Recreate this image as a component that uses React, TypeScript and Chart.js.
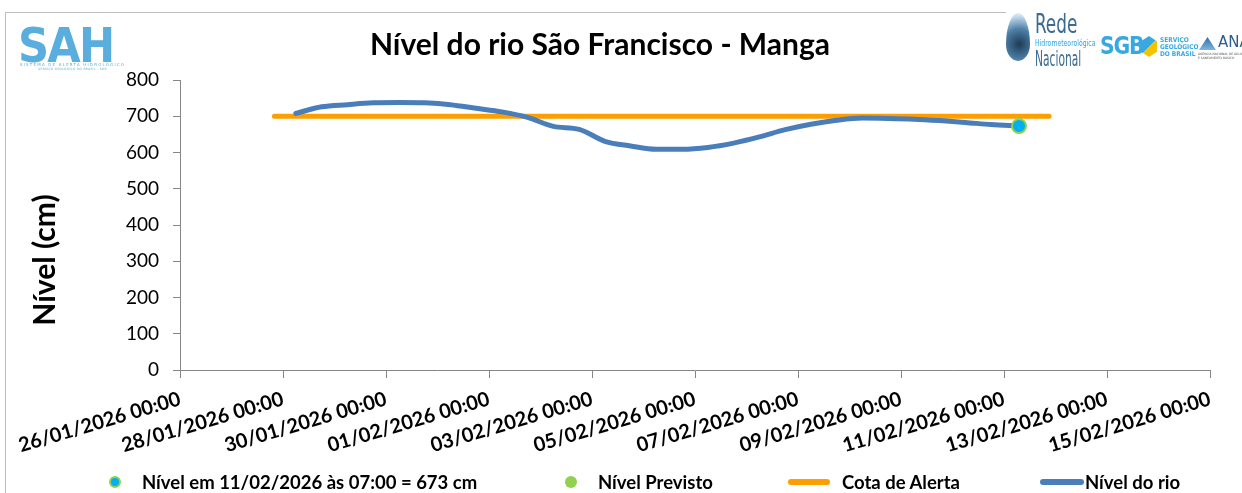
import { useEffect, useRef } from "react";
import { Chart, registerables } from "chart.js";

Chart.register(...registerables);

const startDate = "2026-01-26T00:00";
const endDate = "2026-02-15T00:00";
const xTickStepDays = 2;

const riverTimes = [
  "2026-01-28T06:00", "2026-01-28T18:00", "2026-01-29T06:00", "2026-01-29T18:00",
  "2026-01-30T06:00", "2026-01-30T18:00", "2026-01-31T06:00", "2026-01-31T18:00",
  "2026-02-01T06:00", "2026-02-01T18:00", "2026-02-02T06:00", "2026-02-02T18:00",
  "2026-02-03T06:00", "2026-02-03T18:00", "2026-02-04T06:00", "2026-02-04T18:00",
  "2026-02-05T06:00", "2026-02-05T18:00", "2026-02-06T06:00", "2026-02-06T18:00",
  "2026-02-07T06:00", "2026-02-07T18:00", "2026-02-08T06:00", "2026-02-08T18:00",
  "2026-02-09T06:00", "2026-02-09T18:00", "2026-02-10T06:00", "2026-02-10T18:00",
  "2026-02-11T07:00",
];
const riverValues = [
  708, 726, 732, 737,
  738, 737, 732, 722,
  712, 697, 672, 664,
  631, 618, 609, 609,
  614, 626, 643, 663,
  678, 689, 695, 694,
  692, 688, 683, 677,
  673,
];

const alertTimes = ["2026-01-27T20:00", "2026-02-11T21:00"];
const alertValues = [700, 700];

const currentTimes = ["2026-02-11T07:00"];
const currentValues = [673];

const forecastTimes: string[] = [];
const forecastValues: number[] = [];

const yMin = 0;
const yMax = 800;
const yStep = 100;

const chartTitle = "Nível do rio São Francisco - Manga";
const yAxisTitle = "Nível (cm)";
const legendLabels = [
  "Nível em 11/02/2026 às 07:00 = 673 cm",
  "Nível Previsto",
  "Cota de Alerta",
  "Nível do rio",
];

const DAY = 86400000;
const toMs = (s: string) => Date.parse(s + ":00Z");
const base = toMs(startDate);
const toDays = (s: string) => (toMs(s) - base) / DAY;
const pts = (times: string[], vals: number[]) =>
  times.map((t, i) => ({ x: toDays(t), y: vals[i] }));
const pad2 = (n: number) => String(n).padStart(2, "0");
const fmtTick = (v: number) => {
  const d = new Date(base + v * DAY);
  return `${pad2(d.getUTCDate())}/${pad2(d.getUTCMonth() + 1)}/${d.getUTCFullYear()} 00:00`;
};

const FONT = "Lato, 'Open Sans', sans-serif";
const COND = "'DejaVu Sans Condensed', 'DejaVu Sans', sans-serif";
const BLUE = "#4A7EBB";
const ORANGE = "#FF9E00";
const AXIS = "#868686";

export default function App() {
  const ref = useRef<HTMLCanvasElement | null>(null);

  useEffect(() => {
    if (!ref.current) return;
    const chart = new Chart(ref.current, {
      type: "line",
      data: {
        datasets: [
          {
            label: legendLabels[0],
            data: pts(currentTimes, currentValues),
            showLine: false,
            pointRadius: 7,
            pointBackgroundColor: "#00B0F0",
            pointBorderColor: "#92D050",
            pointBorderWidth: 2,
          },
          {
            label: legendLabels[1],
            data: pts(forecastTimes, forecastValues),
            showLine: false,
            pointRadius: 6,
            pointBackgroundColor: "#92D050",
            pointBorderColor: "#92D050",
          },
          {
            label: legendLabels[3],
            data: pts(riverTimes, riverValues),
            borderColor: BLUE,
            borderWidth: 5,
            pointRadius: 0,
            tension: 0.4,
            cubicInterpolationMode: "monotone",
            borderCapStyle: "round",
            borderJoinStyle: "round",
          },
          {
            label: legendLabels[2],
            data: pts(alertTimes, alertValues),
            borderColor: ORANGE,
            borderWidth: 5,
            pointRadius: 0,
            borderCapStyle: "round",
          },
        ],
      },
      options: {
        responsive: false,
        animation: false,
        layout: { padding: { left: 0, right: 32, top: 80, bottom: 0 } },
        plugins: {
          legend: { display: false },
          title: { display: false },
          tooltip: { enabled: false },
        },
        scales: {
          x: {
            type: "linear",
            min: 0,
            max: toDays(endDate),
            afterFit: (s: any) => {
              s.height = 123;
            },
            ticks: {
              stepSize: xTickStepDays,
              minRotation: 16.5,
              maxRotation: 16.5,
              padding: 9,
              color: "#000",
              font: { family: FONT, size: 20, weight: "bold" },
              callback: (v: any) => fmtTick(Number(v)),
            },
            grid: {
              display: true,
              drawOnChartArea: false,
              drawTicks: true,
              tickLength: 8,
              color: AXIS,
            },
            border: { display: true, color: AXIS, width: 1 },
          },
          y: {
            min: yMin,
            max: yMax,
            afterFit: (s: any) => {
              s.width = 180;
            },
            ticks: {
              stepSize: yStep,
              padding: 14,
              color: "#000",
              font: { family: FONT, size: 19 },
            },
            grid: {
              display: true,
              drawOnChartArea: false,
              drawTicks: true,
              tickLength: 7,
              color: AXIS,
            },
            border: { display: true, color: AXIS, width: 1 },
          },
        },
      },
    });
    return () => chart.destroy();
  }, []);

  const legendText: React.CSSProperties = {
    position: "absolute",
    top: 471,
    fontFamily: FONT,
    fontWeight: 700,
    fontSize: 18.5,
    color: "#000",
    whiteSpace: "nowrap",
    lineHeight: "22px",
  };

  return (
    <div
      style={{
        position: "absolute",
        left: 0,
        top: 0,
        width: 1242,
        height: 493,
        background: "#fff",
        overflow: "hidden",
      }}
    >
      {/* frame */}
      <div
        style={{
          position: "absolute",
          left: 5,
          top: 12,
          width: 1000,
          height: 490,
          borderTop: "1px solid #BFBFBF",
          borderLeft: "1px solid #BFBFBF",
        }}
      />
      <canvas
        ref={ref}
        width={1242}
        height={493}
        style={{ position: "absolute", left: 0, top: 0, width: 1242, height: 493 }}
      />
      {/* title */}
      <div
        style={{
          position: "absolute",
          left: 300,
          width: 600,
          top: 25,
          textAlign: "center",
          fontFamily: FONT,
          fontWeight: 700,
          fontSize: 30,
          lineHeight: "36px",
          color: "#000",
          whiteSpace: "nowrap",
        }}
      >
        {chartTitle}
      </div>
      {/* y axis title */}
      <div
        style={{
          position: "absolute",
          left: 43 - 100,
          top: 260 - 18,
          width: 200,
          height: 36,
          lineHeight: "36px",
          textAlign: "center",
          transform: "rotate(-90deg)",
          fontFamily: FONT,
          fontWeight: 700,
          fontSize: 30,
          color: "#000",
          whiteSpace: "nowrap",
        }}
      >
        {yAxisTitle}
      </div>

      {/* SAH logo */}
      <div
        style={{
          position: "absolute",
          left: 18,
          top: 19,
          fontFamily: "'DejaVu Sans', sans-serif",
          fontWeight: 900,
          fontSize: 48,
          lineHeight: "52px",
          color: "#5AAEDD",
          transform: "scaleX(0.9)",
          transformOrigin: "left top",
          letterSpacing: -2,
        }}
      >
        SAH
      </div>
      <div
        style={{
          position: "absolute",
          left: 20,
          top: 62,
          fontFamily: "'DejaVu Sans', sans-serif",
          fontSize: 4,
          lineHeight: "5px",
          letterSpacing: 1.2,
          color: "#5AAEDD",
          whiteSpace: "nowrap",
        }}
      >
        SISTEMA DE ALERTA HIDROLÓGICO
        <div style={{ fontSize: 3, letterSpacing: 0.3, textAlign: "center" }}>
          SERVIÇO GEOLÓGICO DO BRASIL - SGB
        </div>
      </div>

      {/* Rede Hidrometeorológica Nacional logo */}
      <div
        style={{
          position: "absolute",
          left: 1006,
          top: 13,
          width: 24,
          height: 48,
          borderRadius: "50% 50% 50% 50% / 65% 65% 35% 35%",
          background:
            "radial-gradient(circle at 55% 65%, #1d3b55 0%, #4d7fa5 45%, #bcd6ea 80%, #fff 100%)",
        }}
      />
      <div
        style={{
          position: "absolute",
          left: 1035,
          top: 11,
          fontFamily: COND,
          color: "#3D6B8F",
          whiteSpace: "nowrap",
          transform: "scaleX(0.72)",
          transformOrigin: "left top",
        }}
      >
        <div style={{ fontSize: 26, lineHeight: "27px" }}>Rede</div>
        <div style={{ fontSize: 9.5, lineHeight: "10px", color: "#2FA3E6" }}>
          Hidrometeorológica
        </div>
        <div style={{ fontSize: 22, lineHeight: "22px", transform: "scaleX(0.75)", transformOrigin: "left top" }}>
          Nacional
        </div>
      </div>

      {/* SGB logo */}
      <div
        style={{
          position: "absolute",
          left: 1100,
          top: 31,
          fontFamily: "'DejaVu Sans', sans-serif",
          fontWeight: 900,
          fontSize: 24,
          lineHeight: "30px",
          color: "#38A8E0",
          letterSpacing: -1.5,
          whiteSpace: "nowrap",
          transform: "scaleX(0.85)",
          transformOrigin: "left top",
        }}
      >
        SGB
      </div>
      <div
        style={{
          position: "absolute",
          left: 1141,
          top: 36,
          width: 16,
          height: 21,
          clipPath: "polygon(50% 0, 100% 25%, 100% 75%, 50% 100%, 0 75%, 0 25%)",
          background: "linear-gradient(135deg, #38A8E0 50%, #F5C400 50%)",
        }}
      />
      <div
        style={{
          position: "absolute",
          left: 1160,
          top: 37,
          fontFamily: COND,
          fontWeight: 700,
          fontSize: 6.5,
          lineHeight: "7px",
          color: "#38A8E0",
          whiteSpace: "nowrap",
        }}
      >
        <div>SERVIÇO</div>
        <div>GEOLÓGICO</div>
        <div>DO BRASIL</div>
      </div>

      {/* ANA logo */}
      <div
        style={{
          position: "absolute",
          left: 1199,
          top: 37,
          width: 17,
          height: 13,
          clipPath: "polygon(0 100%, 50% 0, 100% 100%)",
          background: "linear-gradient(180deg, #2E6EA6, #7FB6DE)",
        }}
      />
      <div
        style={{
          position: "absolute",
          left: 1218,
          top: 34,
          fontFamily: "'DejaVu Sans', sans-serif",
          fontSize: 15,
          lineHeight: "17px",
          color: "#2E5D8E",
          whiteSpace: "nowrap",
        }}
      >
        ANA
      </div>
      <div
        style={{
          position: "absolute",
          left: 1198,
          top: 52,
          fontFamily: "'DejaVu Sans', sans-serif",
          fontSize: 3,
          lineHeight: "4px",
          color: "#555",
          whiteSpace: "nowrap",
        }}
      >
        <div>AGÊNCIA NACIONAL DE ÁGUAS</div>
        <div>E SANEAMENTO BÁSICO</div>
      </div>

      {/* legend */}
      <div
        style={{
          position: "absolute",
          left: 109,
          top: 476,
          width: 12,
          height: 12,
          borderRadius: "50%",
          background: "#00B0F0",
          border: "2px solid #92D050",
          boxSizing: "border-box",
        }}
      />
      <div style={{ ...legendText, left: 142 }}>{legendLabels[0]}</div>
      <div
        style={{
          position: "absolute",
          left: 565,
          top: 476,
          width: 12,
          height: 12,
          borderRadius: "50%",
          background: "#92D050",
        }}
      />
      <div style={{ ...legendText, left: 598 }}>{legendLabels[1]}</div>
      <div
        style={{
          position: "absolute",
          left: 788,
          top: 479,
          width: 42,
          height: 6,
          borderRadius: 3,
          background: ORANGE,
        }}
      />
      <div style={{ ...legendText, left: 842 }}>{legendLabels[2]}</div>
      <div
        style={{
          position: "absolute",
          left: 1040,
          top: 479,
          width: 44,
          height: 6,
          borderRadius: 3,
          background: BLUE,
        }}
      />
      <div style={{ ...legendText, left: 1085 }}>{legendLabels[3]}</div>
    </div>
  );
}
